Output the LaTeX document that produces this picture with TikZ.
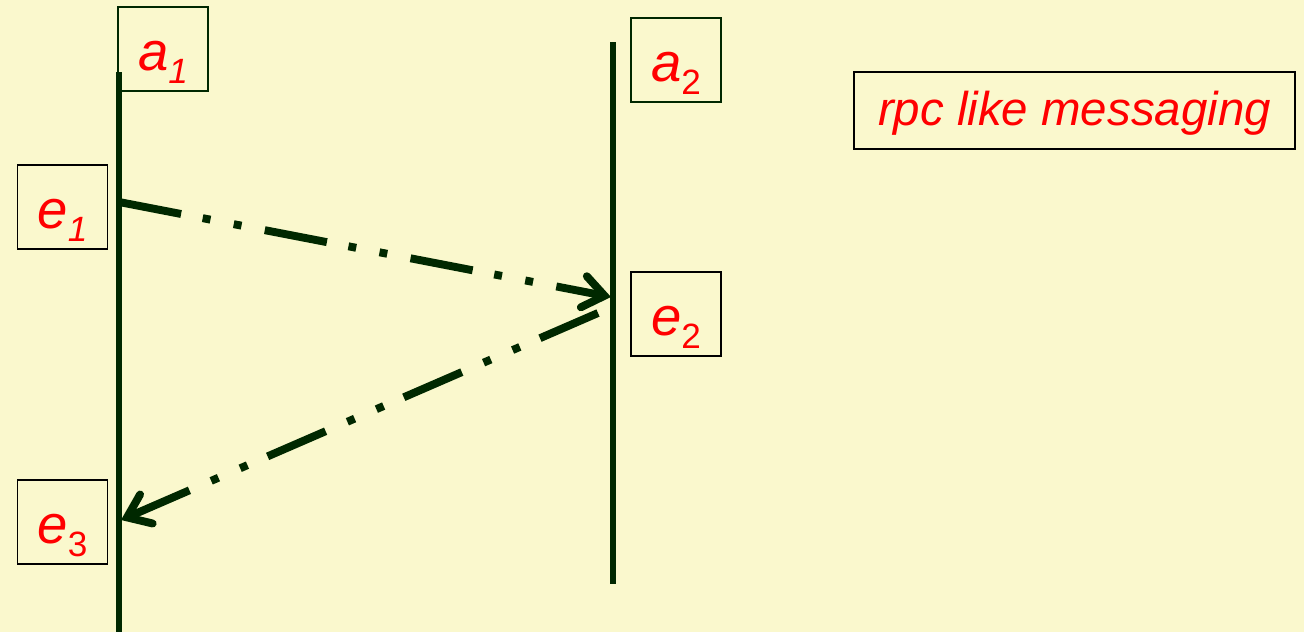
\documentclass[tikz,border=0pt]{standalone}
\usepackage{fontspec}
\setmainfont{Liberation Sans}
\usepackage{tikz}
\usetikzlibrary{arrows.meta}
\definecolor{pgback} {HTML}{FAF8CD}
\definecolor{lifegrn}{HTML}{002800}
\definecolor{lblred} {HTML}{FF0000}
\newcommand{\subit}[1]{\raisebox{-0.45ex}{\fontsize{20}{22}\selectfont\itshape #1}}
\newcommand{\subup}[1]{\raisebox{-0.45ex}{\fontsize{20}{22}\selectfont\upshape #1}}

\begin{document}
\begin{tikzpicture}[x=0.02cm, y=-0.02cm,
      lbl/.style={draw, line width=0.8pt, text=lblred, font=\fontsize{31}{34}\selectfont\itshape,
                  minimum width=1.8cm, minimum height=1.68cm, inner sep=0pt,
                  text height=24pt, text depth=0pt},
      life/.style={lifegrn, line width=3.4pt},
      msg/.style={lifegrn, line width=4.5pt,
                  dash pattern=on 36pt off 12.5pt on 4.5pt off 13.5pt on 4.5pt off 13.5pt,
                  -{Straight Barb[length=12pt, width=18pt, line cap=round]}},
    ]
      % background and page size
      \fill[pgback] (0,0) rectangle (1304,632);
      \useasboundingbox (0,0) rectangle (1304,632);

      % lifelines
      \coordinate (l1top) at (119,72);
      \coordinate (l1bot) at (119,632);
      \coordinate (l2top) at (613,42);
      \coordinate (l2bot) at (613,584);
      \draw[life] (l1top) -- (l1bot);
      \draw[life] (l2top) -- (l2bot);

      % labels
      \node[lbl, draw=lifegrn] (a1) at (163,49)   {a\subit{1}};
      \node[lbl, draw=lifegrn] (a2) at (676,60)   {a\subup{2}};
      \node[lbl, draw=black]   (e1) at (62.5,207) {e\subit{1}};
      \node[lbl, draw=black]   (e2) at (676,314)  {e\subup{2}};
      \node[lbl, draw=black]   (e3) at (62.5,522) {e\subup{3}};
      \node[lbl, draw=black, font=\fontsize{27}{30}\selectfont\itshape,
            minimum width=8.82cm, minimum height=1.54cm, text height=16.6pt]
        (rpc) at (1074.5,110.5) {rpc like messaging};

      % messages
      \coordinate (s1) at (119,202);
      \coordinate (t1) at (611,297);
      \coordinate (s2) at (598,313);
      \coordinate (t2) at (121,520);
      \draw[msg] (s1) -- (t1);
      \draw[msg] (s2) -- (t2);
    \end{tikzpicture}
\end{document}
